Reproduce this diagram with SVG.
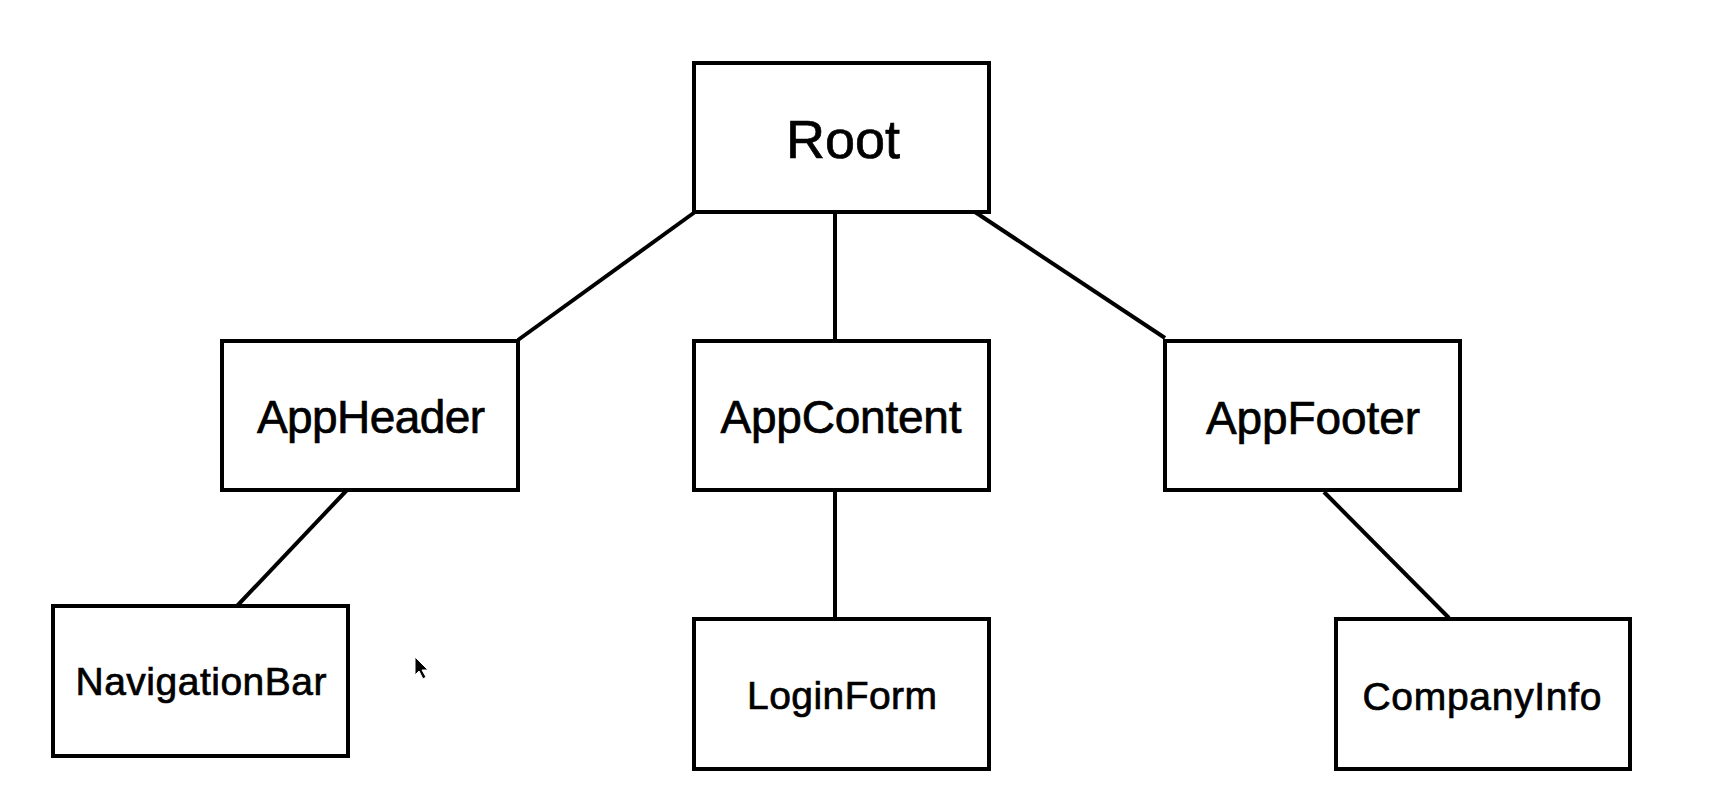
<svg xmlns="http://www.w3.org/2000/svg" width="1714" height="794" viewBox="0 0 1714 794">
<style>
.box{fill:#fff;stroke:#000;stroke-width:4}
.lbl{font-family:"Liberation Sans",Arial,sans-serif;fill:#000;stroke:#000;stroke-width:0.7;text-anchor:middle}
.big{font-size:54px}
.mid{font-size:46px}
.sm{font-size:39px}
.con line{stroke:#000;stroke-width:4}
</style>
<rect width="1714" height="794" fill="#fff"/>
<g id="connectors" class="con">
<line x1="695" y1="212" x2="518" y2="340"/>
<line x1="835" y1="212" x2="835" y2="340"/>
<line x1="975" y1="212" x2="1165" y2="338"/>
<line x1="347" y1="490" x2="237" y2="606"/>
<line x1="835" y1="490" x2="835" y2="618"/>
<line x1="1324" y1="492" x2="1449" y2="618"/>
</g>
<g id="root"><rect class="box" x="694" y="63" width="295" height="149"/><text class="lbl big" x="843" y="158" textLength="114">Root</text></g>
<g id="appheader"><rect class="box" x="222" y="341" width="296" height="149"/><text class="lbl mid" x="371" y="433" textLength="228">AppHeader</text></g>
<g id="appcontent"><rect class="box" x="694" y="341" width="295" height="149"/><text class="lbl mid" x="841" y="433" textLength="241">AppContent</text></g>
<g id="appfooter"><rect class="box" x="1165" y="341" width="295" height="149"/><text class="lbl mid" x="1313" y="434" textLength="214">AppFooter</text></g>
<g id="navigationbar"><rect class="box" x="53" y="606" width="295" height="150"/><text class="lbl sm" x="201" y="695" textLength="251">NavigationBar</text></g>
<g id="loginform"><rect class="box" x="694" y="619" width="295" height="150"/><text class="lbl sm" x="842" y="709" textLength="190">LoginForm</text></g>
<g id="companyinfo"><rect class="box" x="1336" y="619" width="294" height="150"/><text class="lbl sm" x="1482" y="710" textLength="239">CompanyInfo</text></g>
<g id="cursor"><path d="M415 657 L415 675 L419 671 L423 679 L426 677 L422 670 L428 670 Z" fill="#000" stroke="#fff" stroke-width="1"/></g>
</svg>
